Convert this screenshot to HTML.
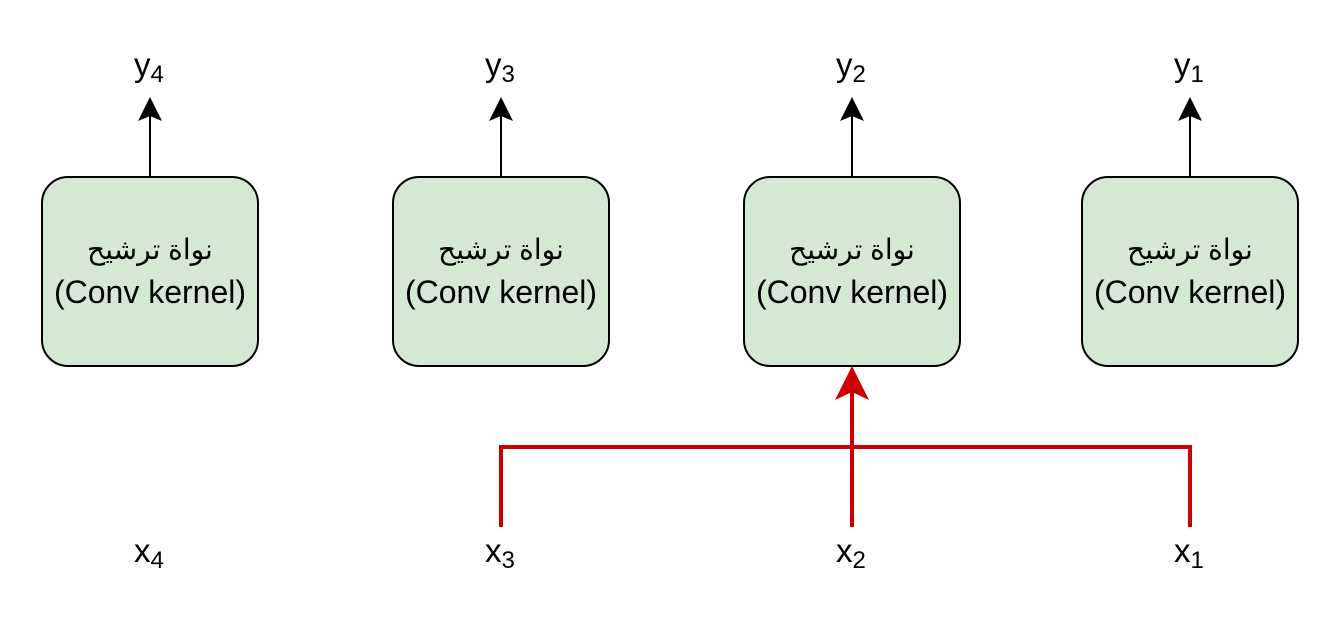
<!DOCTYPE html>
<html><head><meta charset="utf-8"><style>
body{margin:0;background:#fff}
svg text{font-family:"Liberation Sans","DejaVu Sans",sans-serif;fill:#000}
</style></head><body>
<svg width="1340" height="624" viewBox="0 0 1340 624" xmlns="http://www.w3.org/2000/svg">
<g fill="#d5e8d4" stroke="#000" stroke-width="2">
<rect x="42" y="177" width="216" height="189" rx="26"/>
<rect x="393" y="177" width="216" height="189" rx="26"/>
<rect x="744" y="177" width="216" height="189" rx="26"/>
<rect x="1082" y="177" width="216" height="189" rx="26"/>
</g>
<g font-size="32" text-anchor="middle">
<text x="150" y="259" font-family="DejaVu Sans,sans-serif" font-size="28">نواة ترشيح</text>
<text x="150" y="303">(Conv kernel)</text>
<text x="501" y="259" font-family="DejaVu Sans,sans-serif" font-size="28">نواة ترشيح</text>
<text x="501" y="303">(Conv kernel)</text>
<text x="852" y="259" font-family="DejaVu Sans,sans-serif" font-size="28">نواة ترشيح</text>
<text x="852" y="303">(Conv kernel)</text>
<text x="1190" y="259" font-family="DejaVu Sans,sans-serif" font-size="28">نواة ترشيح</text>
<text x="1190" y="303">(Conv kernel)</text>
</g>
<g stroke="#000" stroke-width="2">
<line x1="150" y1="177" x2="150" y2="115"/>
<line x1="501" y1="177" x2="501" y2="115"/>
<line x1="852" y1="177" x2="852" y2="115"/>
<line x1="1190" y1="177" x2="1190" y2="115"/>
</g>
<g fill="#000">
<path d="M150 97 L162 121 L150 116 L138 121 Z"/>
<path d="M501 97 L513 121 L501 116 L489 121 Z"/>
<path d="M852 97 L864 121 L852 116 L840 121 Z"/>
<path d="M1190 97 L1202 121 L1190 116 L1178 121 Z"/>
</g>
<g stroke="#cc0000" stroke-width="4" fill="none">
<polyline points="501,527 501,447 1190,447 1190,527"/>
<line x1="852" y1="527" x2="852" y2="392"/>
</g>
<path d="M852 366 L869 400 L852 392 L835 400 Z" fill="#cc0000"/>
<g font-size="33">
<text x="134" y="76">y<tspan font-size="24" dy="6">4</tspan></text>
<text x="485" y="76">y<tspan font-size="24" dy="6">3</tspan></text>
<text x="836" y="76">y<tspan font-size="24" dy="6">2</tspan></text>
<text x="1174" y="76">y<tspan font-size="24" dy="6">1</tspan></text>
<text x="134" y="562">x<tspan font-size="24" dy="6">4</tspan></text>
<text x="485" y="562">x<tspan font-size="24" dy="6">3</tspan></text>
<text x="836" y="562">x<tspan font-size="24" dy="6">2</tspan></text>
<text x="1174" y="562">x<tspan font-size="24" dy="6">1</tspan></text>
</g>
</svg>
</body></html>
